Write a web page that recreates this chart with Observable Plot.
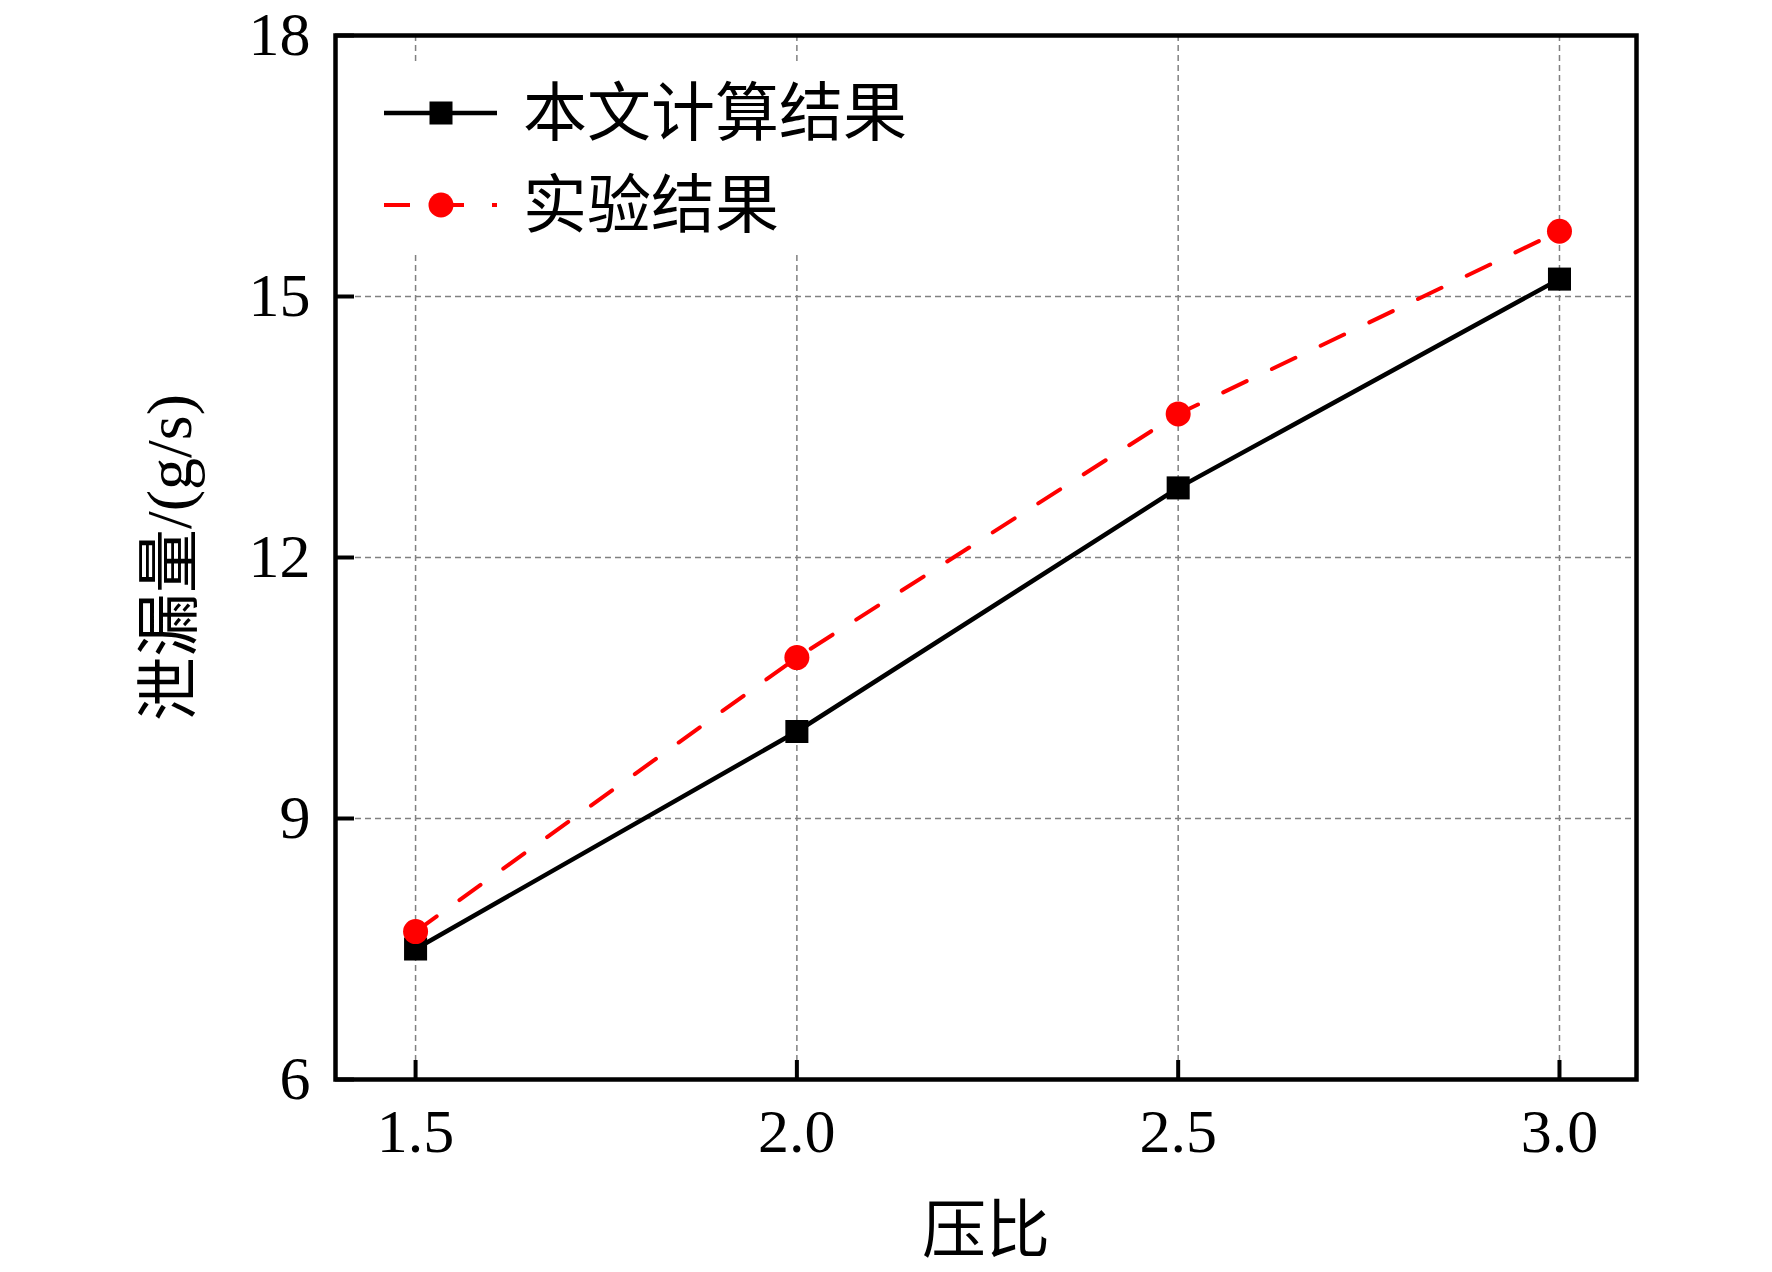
<!DOCTYPE html>
<html><head><meta charset="utf-8">
<script src="https://cdn.jsdelivr.net/npm/d3@7"></script>
<script src="https://cdn.jsdelivr.net/npm/@observablehq/plot@0.6"></script>
<style>body{margin:0;background:#fff;}</style>
</head><body><div id="chart"></div>
<script>
const pressureRatio = [1.5, 2.0, 2.5, 3.0];
const calcLeak = [7.5, 10.0, 12.8, 15.2];
const expLeak = [7.7, 10.85, 13.65, 15.75];
const xTicks = [1.5, 2.0, 2.5, 3.0];
const yTicks = [6, 9, 12, 15, 18];
const yGridTicks = [9, 12, 15];
const seriesNames = ["本文计算结果", "实验结果"];
const xLabel = "压比";
const yLabel = "泄漏量/(g/s)";

const calcData = pressureRatio.map((x, i) => ({x, y: calcLeak[i]}));
const expData = pressureRatio.map((x, i) => ({x, y: expLeak[i]}));
const xDomain = [1.395, 3.101];
const yDomain = [6, 18];
const FONT = '"Liberation Serif","Noto Sans CJK SC",serif';
const gridStyle = {stroke: "#808080", strokeOpacity: 1, strokeWidth: 1.5, strokeDasharray: "6,4"};

const plot = Plot.plot({
  width: 1772, height: 1272,
  marginLeft: 335, marginRight: 136, marginTop: 35, marginBottom: 193,
  style: {fontFamily: FONT, fontSize: "62px", color: "black", background: "white"},
  x: {domain: xDomain},
  y: {domain: yDomain},
  marks: [
    Plot.gridX(xTicks, gridStyle),
    Plot.gridY(yGridTicks, gridStyle),
    Plot.ruleX(xTicks, {y1: yDomain[0], y2: yDomain[0], insetTop: -19, stroke: "black", strokeWidth: 4}),
    Plot.ruleY(yTicks, {x1: xDomain[0], x2: xDomain[0], insetRight: -19, stroke: "black", strokeWidth: 4}),
    Plot.axisX(xTicks, {tickSize: 0, tickPadding: 28, tickFormat: d => d.toFixed(1), label: null}),
    Plot.axisY(yTicks, {tickSize: 0, tickPadding: 25, tickFormat: d => String(d), label: null}),
    Plot.frame({stroke: "black", strokeWidth: 4.5}),
    Plot.line(calcData, {x: "x", y: "y", stroke: "black", strokeWidth: 4.5}),
    Plot.dot(calcData, {x: "x", y: "y", symbol: "square", r: 13, fill: "black"}),
    Plot.line(expData, {x: "x", y: "y", stroke: "#ff0000", strokeWidth: 4, strokeDasharray: "26,28"}),
    Plot.dot(expData, {x: "x", y: "y", symbol: "circle", r: 12.5, fill: "#ff0000"}),
    Plot.text([xLabel], {text: d => d, frameAnchor: "bottom", dy: 172, fontSize: 64, fill: "black"}),
    Plot.text([yLabel], {text: d => d, frameAnchor: "left", dx: -165, rotate: -90, textAnchor: "middle", fontSize: 64, fill: "black"})
  ]
});
document.getElementById("chart").appendChild(plot);

// legend
const svg = d3.select(plot);
const lg = svg.append("g").attr("font-family", FONT).attr("font-size", 64).attr("text-anchor", "start");
lg.append("rect").attr("x", 360).attr("y", 62).attr("width", 600).attr("height", 192).attr("fill", "white");
// series 1
lg.append("line").attr("x1", 384).attr("x2", 497).attr("y1", 113).attr("y2", 113)
  .attr("stroke", "black").attr("stroke-width", 4.5);
lg.append("rect").attr("x", 441 - 11.5).attr("y", 113 - 11.5).attr("width", 23).attr("height", 23).attr("fill", "black");
lg.append("text").attr("x", 523).attr("y", 113).attr("dy", "0.35em").attr("text-anchor", "start").attr("fill", "black").text(seriesNames[0]);
// series 2
lg.append("line").attr("x1", 384).attr("x2", 497).attr("y1", 205).attr("y2", 205)
  .attr("stroke", "#ff0000").attr("stroke-width", 4).attr("stroke-dasharray", "26,28");
lg.append("circle").attr("cx", 441).attr("cy", 205).attr("r", 12.5).attr("fill", "#ff0000");
lg.append("text").attr("x", 523).attr("y", 205).attr("dy", "0.35em").attr("text-anchor", "start").attr("fill", "black").text(seriesNames[1]);
</script>
</body></html>
